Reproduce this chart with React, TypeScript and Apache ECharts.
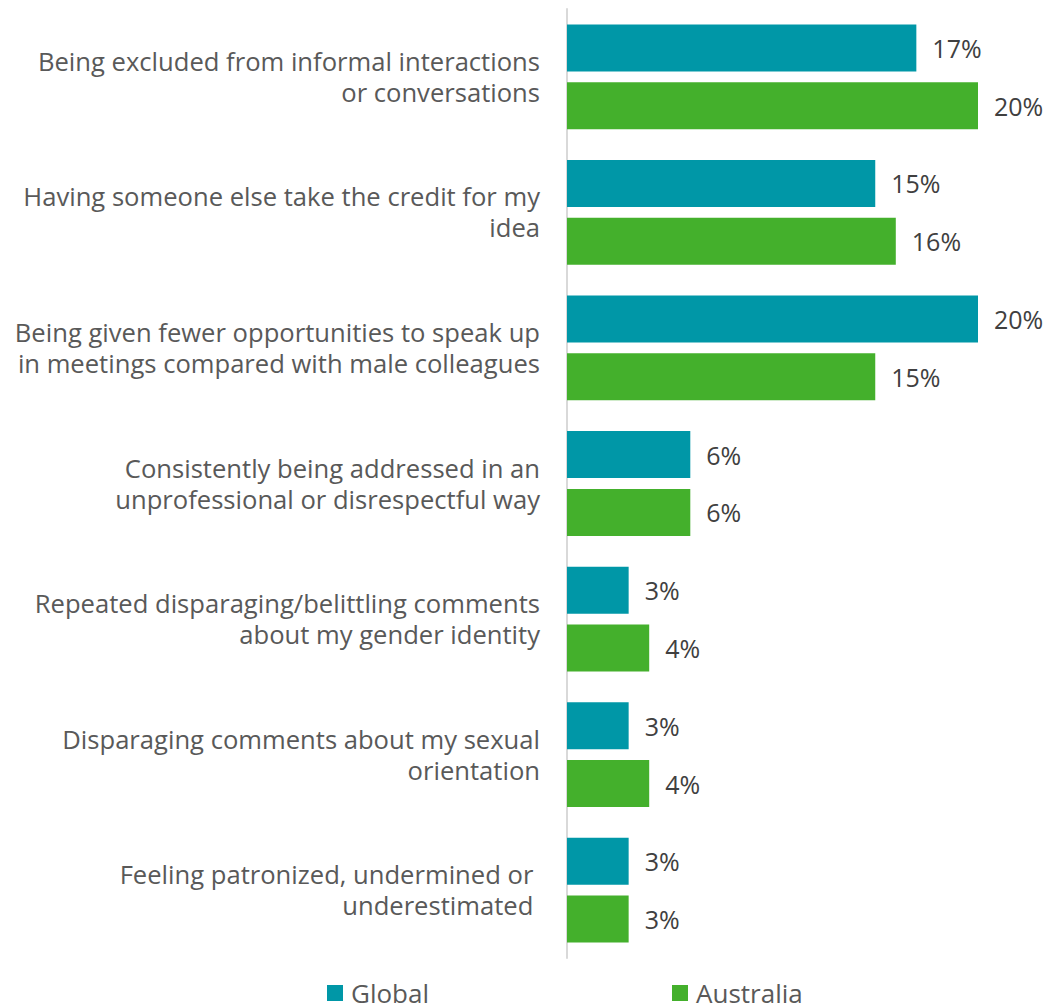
import React, { useEffect, useRef } from "react";
import * as echarts from "echarts";

const categories = [
  "Being excluded from informal interactions\nor conversations",
  "Having someone else take the credit for my\nidea",
  "Being given fewer opportunities to speak up\nin meetings compared with male colleagues",
  "Consistently being addressed in an\nunprofessional or disrespectful way",
  "Repeated disparaging/belittling comments\nabout my gender identity",
  "Disparaging comments about my sexual\norientation",
  "Feeling patronized, undermined or \nunderestimated ",
];
const globalValues = [17, 15, 20, 6, 3, 3, 3];
const australiaValues = [20, 16, 15, 6, 4, 4, 3];
const seriesNames = ["Global", "Australia"];

const FONT = "'Open Sans', 'Noto Sans', sans-serif";

export default function App() {
  const ref = useRef<HTMLDivElement>(null);
  useEffect(() => {
    if (!ref.current) return;
    const chart = echarts.init(ref.current, undefined, { renderer: "svg" });
    const label = {
      show: true,
      position: "right",
      distance: 16,
      formatter: "{c}%",
      fontSize: 25,
      fontFamily: FONT,
      color: "#404040",
    };
    chart.setOption({
      animation: false,
      grid: { left: 567, right: 70, top: 9, bottom: 46, containLabel: false },
      xAxis: {
        type: "value",
        min: 0,
        max: 20,
        show: false,
        splitLine: { show: false },
      },
      yAxis: {
        type: "category",
        inverse: true,
        data: categories,
        axisLine: { show: true, lineStyle: { color: "#D9D9D9", width: 2 } },
        axisTick: { show: false },
        axisLabel: {
          margin: 27,
          fontSize: 25.6,
          lineHeight: 31,
          fontFamily: FONT,
          color: "#595959",
          align: "right",
        },
      },
      legend: {
        data: seriesNames,
        left: 322,
        top: 975,
        padding: 5,
        itemWidth: 16,
        itemHeight: 16,
        itemGap: 243,
        icon: "rect",
        textStyle: {
          fontSize: 26,
          fontFamily: FONT,
          color: "#595959",
          lineHeight: 26,
          padding: [0, 0, 0, 3],
        },
      },
      series: [
        {
          name: seriesNames[0],
          type: "bar",
          data: globalValues,
          barWidth: 47,
          barGap: "23%",
          itemStyle: { color: "#0097A7" },
          label,
        },
        {
          name: seriesNames[1],
          type: "bar",
          data: australiaValues,
          barWidth: 47,
          barGap: "23%",
          itemStyle: { color: "#44B02C" },
          label,
        },
      ],
    });
    return () => chart.dispose();
  }, []);
  return (
    <div
      ref={ref}
      style={{ position: "absolute", left: 0, top: 0, width: 1048, height: 1004, background: "#fff" }}
    />
  );
}
